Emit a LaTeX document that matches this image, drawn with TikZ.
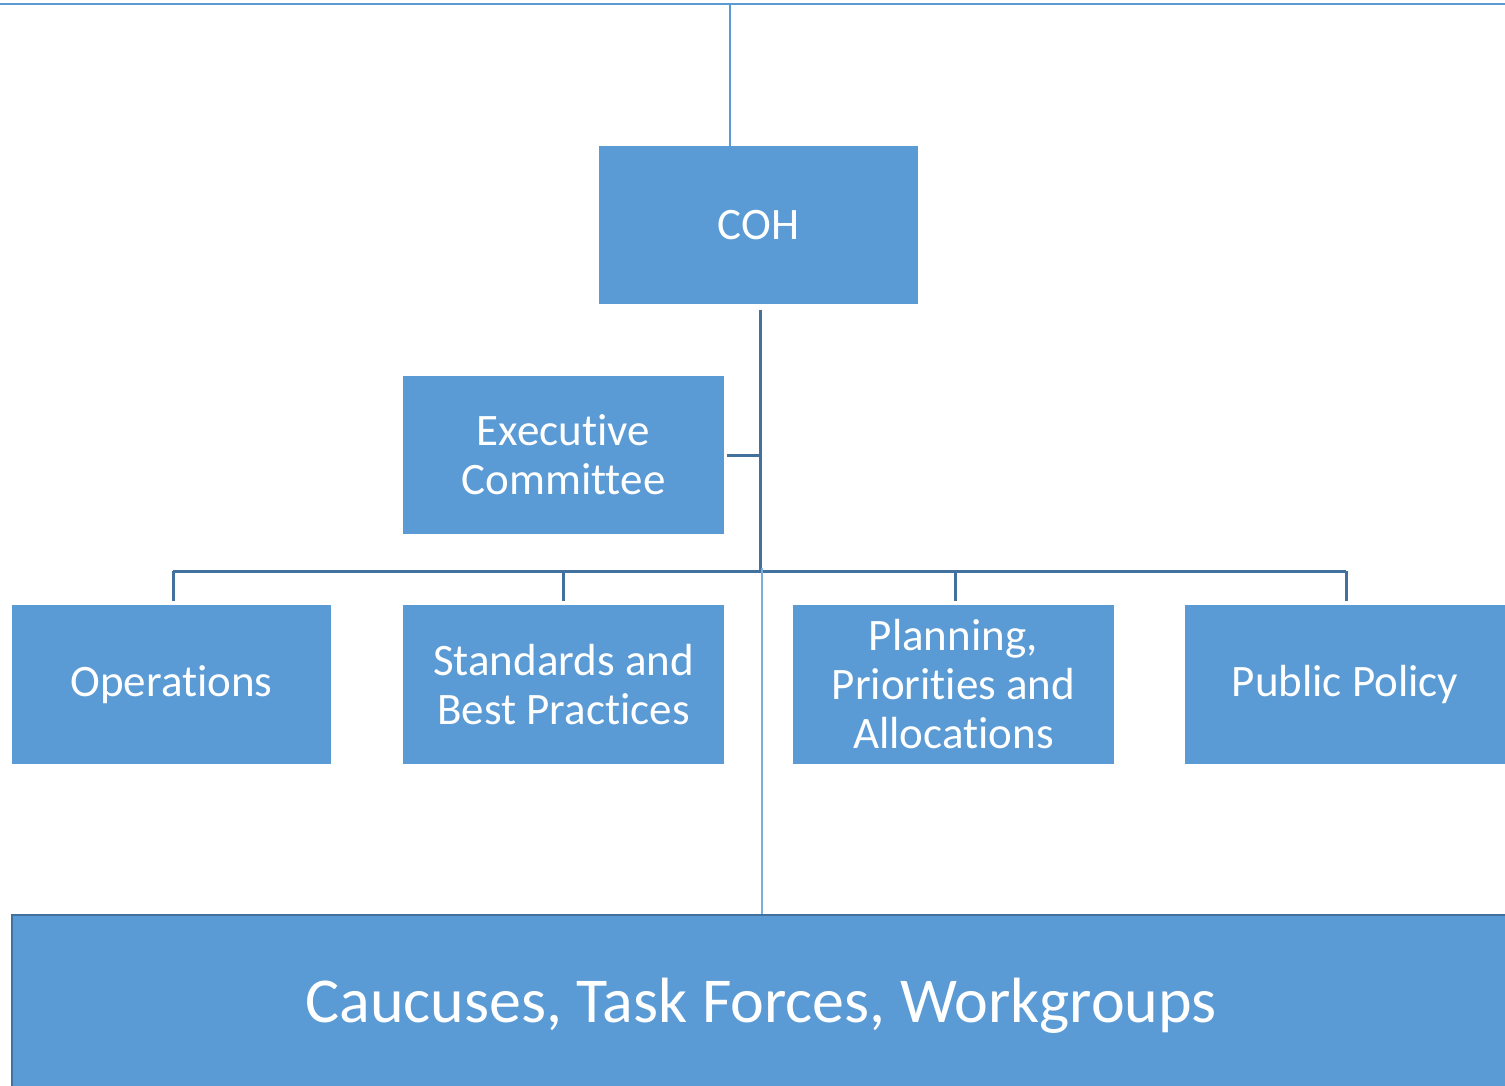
\documentclass[tikz,border=0pt]{standalone}
\usepackage{fontspec}
\setmainfont[Ligatures={NoCommon}]{Carlito}
\definecolor{boxblue}{HTML}{5B9BD5}
\definecolor{darkline}{HTML}{41719C}
\begin{document}
\begin{tikzpicture}[x=1bp,y=-1bp,
  box/.style={fill=boxblue,draw=none,text=white,align=center,font=\fontsize{45bp}{49bp}\selectfont},
  dline/.style={draw=darkline,line width=3bp},
  lline/.style={draw=boxblue,line width=2bp}]
\useasboundingbox (0,0) rectangle (1505,1085);
% top line
\coordinate (tl) at (0,4);
\coordinate (tr) at (1505,4);
\coordinate (tm) at (730,4);
\draw[lline] (tl) -- (tr);
% nodes
\node[box,minimum width=319bp,minimum height=158bp] (coh) at (758.5,225) {COH};
\node[box,minimum width=321bp,minimum height=158bp] (exec) at (563.5,455) {Executive\\Committee};
\node[box,minimum width=319bp,minimum height=159bp] (ops) at (171.5,684.5) {Operations};
\node[box,minimum width=321bp,minimum height=159bp] (std) at (563.5,684.5) {Standards and\\Best Practices};
\node[box,minimum width=321bp,minimum height=159bp] (plan) at (953.5,684.5) {Planning,\\Priorities and\\Allocations};
\node[box,minimum width=320bp,minimum height=159bp] (pub) at (1345,684.5) {Public Policy};
\node[box,minimum width=1500bp,minimum height=180bp,anchor=north west,draw=darkline,line width=2bp] (cau) at (11,914) {};
\node[text=white,font=\fontsize{64bp}{68bp}\selectfont] (caut) at (761,1006) {Caucuses, Task Forces, Workgroups};
% connectors
\draw[lline] (tm) -- (coh.north -| tm);
\coordinate (hub) at (760,571);
\draw[dline] (760,310) -- (hub);
\draw[dline] ([xshift=3bp]exec.east) -- (exec.east -| hub);
\coordinate (hl) at (173,571);
\coordinate (hr) at (1346,571);
\draw[dline] (hl) -- (hr);
\draw[dline] (hl) -- (173,601);
\draw[dline] (563,571) -- (563,601);
\draw[dline] (955,571) -- (955,601);
\draw[dline] (hr) -- (1346,601);
\draw[draw=boxblue!80,line width=1.5bp] (762,568) -- (cau.north -| 762,0);
\end{tikzpicture}
\end{document}
